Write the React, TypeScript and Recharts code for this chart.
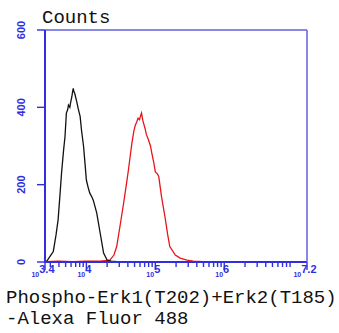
import { LineChart, Line, XAxis, YAxis } from "recharts"

// log10 of fluorescence intensity vs counts
const blackLogX = [3.40, 3.43, 3.47, 3.52, 3.56, 3.59, 3.62, 3.64, 3.67, 3.69, 3.71, 3.73, 3.74, 3.76, 3.77, 3.79, 3.80, 3.81, 3.82, 3.83, 3.86, 3.88, 3.91, 3.93, 3.96, 3.98, 4.00, 4.03, 4.05, 4.08, 4.10, 4.15, 4.20, 4.25, 4.30, 4.36, 4.45]
const blackCounts = [1, 3, 14, 27, 70, 109, 180, 230, 290, 324, 385, 395, 406, 400, 411, 428, 440, 449, 440, 437, 415, 398, 376, 340, 298, 255, 212, 190, 178, 168, 160, 127, 75, 23, 5, 2, 1]

const redLogX = [3.40, 3.60, 3.80, 4.00, 4.20, 4.34, 4.40, 4.44, 4.49, 4.54, 4.58, 4.61, 4.64, 4.66, 4.69, 4.71, 4.73, 4.75, 4.77, 4.79, 4.80, 4.82, 4.85, 4.87, 4.90, 4.93, 4.95, 4.98, 5.00, 5.03, 5.05, 5.09, 5.14, 5.18, 5.21, 5.29, 5.36, 5.46, 5.55, 5.70]
const redCounts = [1, 2, 1, 2, 2, 5, 18, 40, 95, 152, 200, 238, 280, 307, 340, 354, 362, 372, 368, 380, 385, 365, 346, 330, 316, 300, 281, 255, 233, 228, 221, 169, 117, 70, 40, 18, 10, 5, 2, 1]

const xMajorTicks = [3.4, 4, 5, 6, 7.2]
const xMajorLabels = ["3.4", "4", "5", "6", "7.2"]
const yTicks = [0, 200, 400, 600]

const blue = "#2f2fe0"
const frameBlue = "#6262dc"

// log minor ticks (2..9 x 10^n) inside the domain
const xMinorTicks: number[] = []
for (let n = 3; n <= 7; n++) {
 for (let k = 2; k <= 9; k++) {
  const v = Math.log10(k * Math.pow(10, n))
  if (v > 3.4 && v < 7.2) xMinorTicks.push(v)
 }
}
const xTicks = [...xMajorTicks, ...xMinorTicks].sort((a, b) => a - b)

const blackData = blackLogX.map((x, i) => ({ x, y: blackCounts[i] }))
const redData = redLogX.map((x, i) => ({ x, y: redCounts[i] }))

const XTick = (props: any) => {
 const { x, y, payload } = props
 const idx = xMajorTicks.indexOf(payload.value)
 if (idx < 0) {
  return <line x1={x} x2={x} y1={y} y2={y + 5} stroke={blue} strokeWidth={1.4} />
 }
 return (
  <g>
   <line x1={x} x2={x} y1={y} y2={y + 8} stroke={blue} strokeWidth={1.4} />
   <text x={x - 2} y={y + 15} textAnchor="middle" fill={blue} fontFamily="Liberation Sans" fontWeight="bold">
    <tspan fontSize={7}>10</tspan>
    <tspan fontSize={11} dy={-4}>{xMajorLabels[idx]}</tspan>
   </text>
  </g>
 )
}

const YTick = (props: any) => {
 const { x, y, payload } = props
 return (
  <g>
   <line x1={x - 8} x2={x} y1={y} y2={y} stroke={blue} strokeWidth={1.4} />
   <text x={x - 20} y={y} transform={`rotate(-90 ${x - 20} ${y})`} textAnchor="middle" fill={blue} fontSize={11} fontFamily="Liberation Sans" fontWeight="bold">
    {payload.value}
   </text>
  </g>
 )
}

export default function App() {
 return (
  <div style={{ position: "absolute", left: 0, top: 0, width: 339, height: 333, background: "#fff" }}>
   <LineChart width={339} height={333} margin={{ top: 0, right: 0, bottom: 0, left: 0 }}>
    <XAxis
     xAxisId="b"
     dataKey="x"
     type="number"
     domain={[3.4, 7.2]}
     ticks={xTicks}
     interval={0}
     allowDataOverflow
     height={71}
     tickSize={0}
     tickMargin={0}
     tickLine={false}
     tick={<XTick />}
     axisLine={{ stroke: blue, strokeWidth: 2 }}
    />
    <XAxis xAxisId="t" orientation="top" type="number" domain={[3.4, 7.2]} height={30} tick={false} tickLine={false} axisLine={{ stroke: frameBlue, strokeWidth: 1.5 }} />
    <YAxis
     yAxisId="l"
     type="number"
     domain={[0, 600]}
     ticks={yTicks}
     width={45}
     tickSize={0}
     tickMargin={0}
     tickLine={false}
     tick={<YTick />}
     axisLine={{ stroke: blue, strokeWidth: 2 }}
    />
    <YAxis yAxisId="r" orientation="right" type="number" domain={[0, 600]} width={32} tick={false} tickLine={false} axisLine={{ stroke: frameBlue, strokeWidth: 1.5 }} />
    <Line xAxisId="b" yAxisId="l" data={redData} dataKey="y" type="linear" stroke="#e8141c" strokeWidth={1.3} dot={false} isAnimationActive={false} />
    <Line xAxisId="b" yAxisId="l" data={blackData} dataKey="y" type="linear" stroke="#111" strokeWidth={1.3} dot={false} isAnimationActive={false} />
   </LineChart>
   <div style={{ position: "absolute", left: 42, top: 8, fontFamily: "Liberation Mono", fontSize: 19, color: "#111", lineHeight: "20px" }}>Counts</div>
   <div style={{ position: "absolute", left: 6, top: 288, fontFamily: "Liberation Mono", fontSize: 19, color: "#111", lineHeight: "21px", whiteSpace: "pre" }}>
    {"Phospho-Erk1(T202)+Erk2(T185)\n-Alexa Fluor 488"}
   </div>
  </div>
 )
}
